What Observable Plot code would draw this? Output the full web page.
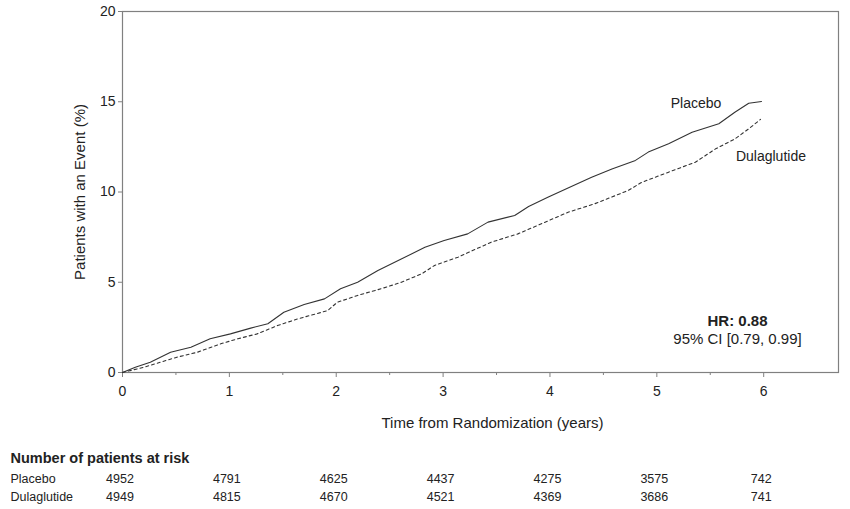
<!DOCTYPE html>
<html>
<head>
<meta charset="utf-8">
<script src="https://cdn.jsdelivr.net/npm/d3@7"></script>
<script src="https://cdn.jsdelivr.net/npm/@observablehq/plot@0.6"></script>
<style>
  html, body { margin: 0; padding: 0; background: #fff; }
  #chart svg { display: block; }
</style>
</head>
<body>
<div id="chart"></div>
<script>
// Cumulative incidence curves (time in years, % with event)
const placeboTime = [0,0.12,0.26,0.45,0.64,0.82,1.01,1.20,1.36,1.51,1.70,1.89,2.04,2.20,2.39,2.58,2.83,3.01,3.23,3.42,3.67,3.80,3.98,4.20,4.39,4.58,4.80,4.92,5.11,5.33,5.58,5.73,5.86,5.98];
const placeboPct  = [0,0.29,0.57,1.12,1.40,1.87,2.14,2.46,2.70,3.34,3.77,4.08,4.64,5.00,5.65,6.20,6.94,7.31,7.68,8.33,8.70,9.20,9.71,10.30,10.82,11.28,11.75,12.21,12.67,13.31,13.78,14.42,14.92,15.01];
const dulaTime = [0,0.20,0.51,0.70,0.92,1.08,1.26,1.45,1.64,1.92,2.01,2.20,2.42,2.61,2.80,2.92,3.14,3.45,3.70,3.92,4.17,4.42,4.73,4.86,5.11,5.36,5.55,5.73,5.86,5.97];
const dulaPct  = [0,0.29,0.85,1.12,1.59,1.87,2.14,2.60,2.97,3.43,3.89,4.27,4.64,5.00,5.47,5.93,6.39,7.22,7.68,8.24,8.88,9.35,10.08,10.54,11.10,11.65,12.39,12.94,13.50,14.02];

// Axis ticks
const yTicks = [0, 5, 10, 15, 20];
const xMajorTicks = [0, 1, 2, 3, 4, 5, 6];
const xMinorTicks = [0.5, 1.5, 2.5, 3.5, 4.5, 5.5];

// Number at risk table
const riskTimes = [0, 1, 2, 3, 4, 5, 6];
const riskGroups = ["Placebo", "Dulaglutide"];
const riskPlacebo = [4952, 4791, 4625, 4437, 4275, 3575, 742];
const riskDula    = [4949, 4815, 4670, 4521, 4369, 3686, 741];

const curveLabels = [
  {name: "Placebo", t: 5.13, v: 14.9},
  {name: "Dulaglutide", t: 5.74, v: 11.95}
];

const placebo = placeboTime.map((t, i) => ({t, v: placeboPct[i]}));
const dula = dulaTime.map((t, i) => ({t, v: dulaPct[i]}));
const risk = [
  ...riskTimes.map((t, i) => ({t, group: riskGroups[0], n: riskPlacebo[i]})),
  ...riskTimes.map((t, i) => ({t, group: riskGroups[1], n: riskDula[i]}))
];

const font = "'Liberation Sans', Arial, sans-serif";
const ink = "#222";
const axisGrey = "#808080";
const xDomain = [0, 6.7];

const main = Plot.plot({
  width: 850,
  height: 440,
  marginLeft: 122,
  marginRight: 12,
  marginTop: 11,
  marginBottom: 68,
  style: {fontFamily: font, fontSize: "14px", color: ink, background: "#fff"},
  x: {domain: xDomain},
  y: {domain: [0, 20]},
  marks: [
    Plot.frame({stroke: axisGrey, strokeWidth: 1.2}),
    Plot.axisY({ticks: yTicks, tickSize: 4, tickPadding: 3, stroke: axisGrey, fill: ink, label: null, fontSize: 14}),
    Plot.axisX({ticks: xMajorTicks, tickSize: 5, tickPadding: 9, stroke: axisGrey, fill: ink, label: null, fontSize: 14, tickFormat: d3.format("d")}),
    Plot.axisX({ticks: xMinorTicks, tickSize: 3, stroke: axisGrey, text: null, label: null}),
    Plot.line(placebo, {x: "t", y: "v", stroke: "#333", strokeWidth: 1.1}),
    Plot.line(dula, {x: "t", y: "v", stroke: "#333", strokeWidth: 1.1, strokeDasharray: "3,3"}),
    Plot.text(curveLabels, {x: "t", y: "v", text: "name", textAnchor: "start", fill: ink, fontSize: 14}),
    Plot.text(["HR: 0.88"], {frameAnchor: "bottom-right", dx: -101, dy: -47, textAnchor: "middle", fontWeight: "bold", fontSize: 15, fill: ink}),
    Plot.text(["95% CI [0.79, 0.99]"], {frameAnchor: "bottom-right", dx: -101, dy: -29, textAnchor: "middle", fontSize: 15, fill: ink}),
    Plot.text(["Time from Randomization (years)"], {frameAnchor: "bottom", dx: 12, dy: 55, textAnchor: "middle", fontSize: 15, fill: ink}),
    Plot.text(["Patients with an Event (%)"], {frameAnchor: "left", dx: -42, rotate: -90, textAnchor: "middle", fontSize: 15, fill: ink})
  ]
});

const table = Plot.plot({
  width: 850,
  height: 69,
  marginLeft: 122,
  marginRight: 12,
  marginTop: 0,
  marginBottom: 0,
  style: {fontFamily: font, fontSize: "12.5px", color: ink, background: "#fff"},
  x: {domain: xDomain, axis: null},
  y: {type: "point", domain: riskGroups, range: [38, 56], padding: 0, axis: null},
  marks: [
    Plot.text(["Number of patients at risk"], {frameAnchor: "top-left", dx: -112, dy: 12, textAnchor: "start", fontWeight: "bold", fontSize: 14.5, fill: ink}),
    Plot.text(riskGroups, {y: d => d, text: d => d, frameAnchor: "left", dx: -112, textAnchor: "start", fontSize: 12.5, fill: ink}),
    Plot.text(risk, {x: "t", y: "group", text: d => String(d.n), textAnchor: "middle", dx: -2.5, fontSize: 12.5, fill: ink})
  ]
});

const el = document.getElementById("chart");
el.appendChild(main);
el.appendChild(table);
</script>
</body>
</html>
